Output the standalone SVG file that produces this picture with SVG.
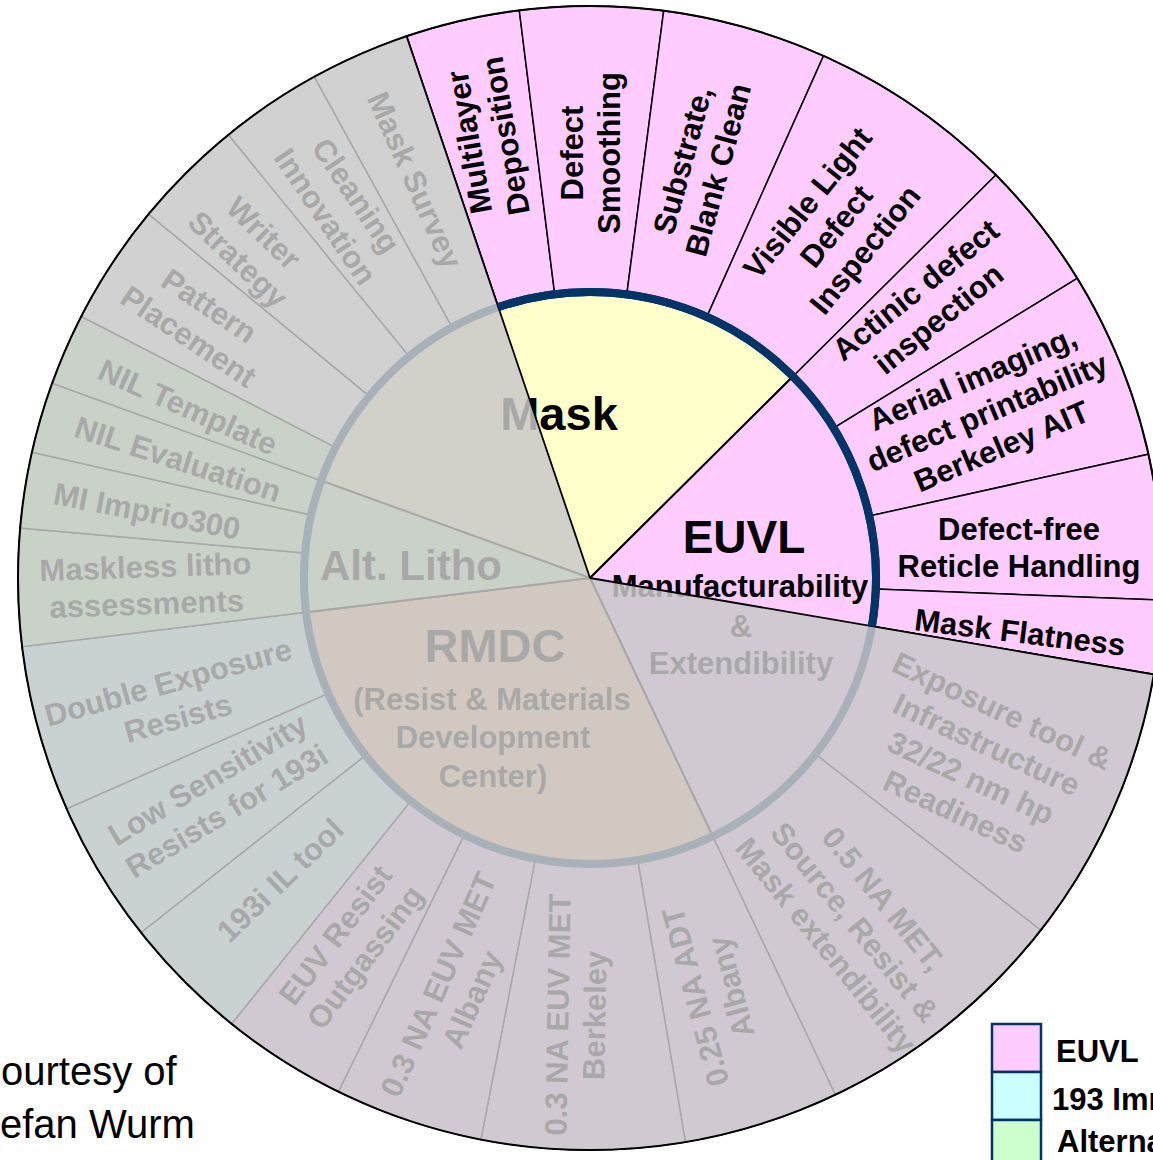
<svg xmlns="http://www.w3.org/2000/svg" width="1153" height="1160" viewBox="0 0 1153 1160">
<style>
 .seg{stroke:#000;stroke-width:1.5}
 .hubp{stroke:#000;stroke-width:2}
 .pk{fill:#FFCCFF} .cy{fill:#CCFFFF} .gr{fill:#CCFFCC} .wh{fill:#FFFFFF} .ye{fill:#FFFFCC} .tn{fill:#FFCC99}
 text{font-family:"Liberation Sans",Arial,Helvetica,sans-serif}
 .lb{font-weight:bold;font-size:31px;text-anchor:middle;fill:#000}
 .hl{font-weight:bold;text-anchor:middle;fill:#000}
 .cr{font-size:40px;fill:#000}
 .lg{font-weight:bold;font-size:31px;fill:#000}
 .lgbox{stroke:#003366;stroke-width:2.5}
</style>
<rect width="1153" height="1160" fill="#fff"/>

<g id="ring">
<g id="seg-multilayer"><path class="seg pk" d="M406.6,36.2 A572,572 0 0 1 519.3,10.4 L554.7,294.2 A286,286 0 0 0 498.3,307.1 Z"/><text class="lb" transform="translate(487,139) rotate(-100)"><tspan x="0" y="-7.5">Multilayer</tspan><tspan x="0" y="29.5">Deposition</tspan></text></g>
<g id="seg-smoothing"><path class="seg pk" d="M519.3,10.4 A572,572 0 0 1 663.7,10.7 L626.8,294.4 A286,286 0 0 0 554.7,294.2 Z"/><text class="lb" transform="translate(590,153) rotate(-90)"><tspan x="0" y="-7.5">Defect</tspan><tspan x="0" y="29.5">Smoothing</tspan></text></g>
<g id="seg-substrate"><path class="seg pk" d="M663.7,10.7 A572,572 0 0 1 823.5,55.9 L706.8,316.9 A286,286 0 0 0 626.8,294.4 Z"/><text class="lb" transform="translate(700,165) rotate(-75)"><tspan x="0" y="-7.5">Substrate,</tspan><tspan x="0" y="29.5">Blank Clean</tspan></text></g>
<g id="seg-visible"><path class="seg pk" d="M823.5,55.9 A572,572 0 0 1 995.9,175 L792.9,376.5 A286,286 0 0 0 706.8,316.9 Z"/><text class="lb" transform="translate(836,226) rotate(-51)"><tspan x="0" y="-26">Visible Light</tspan><tspan x="0" y="11">Defect</tspan><tspan x="0" y="48">Inspection</tspan></text></g>
<g id="seg-actinic"><path class="seg pk" d="M995.9,175 A572,572 0 0 1 1077.2,278.3 L833.6,428.1 A286,286 0 0 0 792.9,376.5 Z"/><text class="lb" transform="translate(927,304) rotate(-39)"><tspan x="0" y="-7.5">Actinic defect</tspan><tspan x="0" y="29.5">inspection</tspan></text></g>
<g id="seg-aerial"><path class="seg pk" d="M1077.2,278.3 A572,572 0 0 1 1148.4,454.2 L869.2,516.1 A286,286 0 0 0 833.6,428.1 Z"/><text class="lb" transform="translate(987,412) rotate(-23)"><tspan x="0" y="-26">Aerial imaging,</tspan><tspan x="0" y="11">defect printability</tspan><tspan x="0" y="48">Berkeley AIT</tspan></text></g>
<g id="seg-reticle"><path class="seg pk" d="M1148.4,454.2 A572,572 0 0 1 1161.6,600 L875.8,589 A286,286 0 0 0 869.2,516.1 Z"/><text class="lb" transform="translate(1019,547)"><tspan x="0" y="-7.5">Defect-free</tspan><tspan x="0" y="29.5">Reticle Handling</tspan></text></g>
<g id="seg-flatness"><path class="seg pk" d="M1161.6,600 A572,572 0 0 1 1153.8,674.4 L871.9,626.2 A286,286 0 0 0 875.8,589 Z"/><text class="lb" transform="translate(1020,632) rotate(7)"><tspan x="0" y="11">Mask Flatness</tspan></text></g>
<g id="seg-exposure"><path class="seg pk" d="M1153.8,674.4 A572,572 0 0 1 1040.7,930.2 L815.4,754.1 A286,286 0 0 0 871.9,626.2 Z"/><text class="lb" transform="translate(979,761) rotate(25)"><tspan x="0" y="-44.5">Exposure tool &amp;</tspan><tspan x="0" y="-7.5">Infrastructure</tspan><tspan x="0" y="29.5">32/22 nm hp</tspan><tspan x="0" y="66.5">Readiness</tspan></text></g>
<g id="seg-05met"><path class="seg pk" d="M1040.7,930.2 A572,572 0 0 1 835.3,1094.7 L712.7,836.3 A286,286 0 0 0 815.4,754.1 Z"/><text class="lb" transform="translate(855,922) rotate(51)"><tspan x="0" y="-26">0.5 NA MET,</tspan><tspan x="0" y="11">Source, Resist &amp;</tspan><tspan x="0" y="48">Mask extendibility</tspan></text></g>
<g id="seg-adt"><path class="seg pk" d="M835.3,1094.7 A572,572 0 0 1 685.4,1142 L637.7,860 A286,286 0 0 0 712.7,836.3 Z"/><text class="lb" transform="translate(713,992) rotate(-105)"><tspan x="0" y="-7.5">0.25 NA ADT</tspan><tspan x="0" y="29.5">Albany</tspan></text></g>
<g id="seg-met-berkeley"><path class="seg pk" d="M685.4,1142 A572,572 0 0 1 480.9,1139.5 L535.4,858.7 A286,286 0 0 0 637.7,860 Z"/><text class="lb" transform="translate(576,1015) rotate(-89)"><tspan x="0" y="-7.5">0.3 NA EUV MET</tspan><tspan x="0" y="29.5">Berkeley</tspan></text></g>
<g id="seg-met-albany"><path class="seg pk" d="M480.9,1139.5 A572,572 0 0 1 338.4,1091.7 L464.2,834.8 A286,286 0 0 0 535.4,858.7 Z"/><text class="lb" transform="translate(455,992) rotate(-66)"><tspan x="0" y="-7.5">0.3 NA EUV MET</tspan><tspan x="0" y="29.5">Albany</tspan></text></g>
<g id="seg-outgassing"><path class="seg pk" d="M338.4,1091.7 A572,572 0 0 1 231.6,1023.8 L410.8,800.9 A286,286 0 0 0 464.2,834.8 Z"/><text class="lb" transform="translate(350,946) rotate(-53)"><tspan x="0" y="-7.5">EUV Resist</tspan><tspan x="0" y="29.5">Outgassing</tspan></text></g>
<g id="seg-193il"><path class="seg cy" d="M231.6,1023.8 A572,572 0 0 1 141.1,932.5 L365.5,755.3 A286,286 0 0 0 410.8,800.9 Z"/><text class="lb" transform="translate(280,880) rotate(-44)"><tspan x="0" y="11">193i IL tool</tspan></text></g>
<g id="seg-lowsens"><path class="seg cy" d="M141.1,932.5 A572,572 0 0 1 66.6,808.8 L328.3,693.4 A286,286 0 0 0 365.5,755.3 Z"/><text class="lb" transform="translate(217,795) rotate(-31)"><tspan x="0" y="-7.5">Low Sensitivity</tspan><tspan x="0" y="29.5">Resists for 193i</tspan></text></g>
<g id="seg-double"><path class="seg cy" d="M66.6,808.8 A572,572 0 0 1 22.1,646.7 L306.1,612.3 A286,286 0 0 0 328.3,693.4 Z"/><text class="lb" transform="translate(173,700) rotate(-15.5)"><tspan x="0" y="-7.5">Double Exposure</tspan><tspan x="0" y="29.5">Resists</tspan></text></g>
<g id="seg-maskless"><path class="seg gr" d="M22.1,646.7 A572,572 0 0 1 20.2,528.1 L305.1,553.1 A286,286 0 0 0 306.1,612.3 Z"/><text class="lb" transform="translate(146,585) rotate(-2)"><tspan x="0" y="-7.5">Maskless litho</tspan><tspan x="0" y="29.5">assessments</tspan></text></g>
<g id="seg-imprio"><path class="seg gr" d="M20.2,528.1 A572,572 0 0 1 32,452.3 L311,515.1 A286,286 0 0 0 305.1,553.1 Z"/><text class="lb" transform="translate(147,511) rotate(11)"><tspan x="0" y="11">MI Imprio300</tspan></text></g>
<g id="seg-nileval"><path class="seg gr" d="M32,452.3 A572,572 0 0 1 52.1,383.3 L321.1,480.6 A286,286 0 0 0 311,515.1 Z"/><text class="lb" transform="translate(178,459) rotate(18)"><tspan x="0" y="11">NIL Evaluation</tspan></text></g>
<g id="seg-niltemplate"><path class="seg gr" d="M52.1,383.3 A572,572 0 0 1 81.3,316.5 L335.6,447.3 A286,286 0 0 0 321.1,480.6 Z"/><text class="lb" transform="translate(188,407) rotate(24)"><tspan x="0" y="11">NIL Template</tspan></text></g>
<g id="seg-pattern"><path class="seg wh" d="M81.3,316.5 A572,572 0 0 1 148.6,214.1 L369.3,396.1 A286,286 0 0 0 335.6,447.3 Z"/><text class="lb" transform="translate(199,321) rotate(34)"><tspan x="0" y="-7.5">Pattern</tspan><tspan x="0" y="29.5">Placement</tspan></text></g>
<g id="seg-writer"><path class="seg wh" d="M148.6,214.1 A572,572 0 0 1 228.5,134.8 L409.2,356.4 A286,286 0 0 0 369.3,396.1 Z"/><text class="lb" transform="translate(251,246) rotate(44)"><tspan x="0" y="-7.5">Writer</tspan><tspan x="0" y="29.5">Strategy</tspan></text></g>
<g id="seg-cleaning"><path class="seg wh" d="M228.5,134.8 A572,572 0 0 1 314.4,76.8 L452.2,327.4 A286,286 0 0 0 409.2,356.4 Z"/><text class="lb" transform="translate(341,206) rotate(56)"><tspan x="0" y="-7.5">Cleaning</tspan><tspan x="0" y="29.5">Innovation</tspan></text></g>
<g id="seg-masksurvey"><path class="seg wh" d="M314.4,76.8 A572,572 0 0 1 406.6,36.2 L498.3,307.1 A286,286 0 0 0 452.2,327.4 Z"/><text class="lb" transform="translate(415,180) rotate(66)"><tspan x="0" y="11">Mask Survey</tspan></text></g>
</g>

<g id="hub">
<g id="hub-mask"><path class="hubp ye" d="M590,578 L321.1,480.6 A286,286 0 0 1 792.9,376.5 Z"/><text class="hl" x="559" y="430" font-size="47">Mask</text></g>
<g id="hub-euvl"><path class="hubp pk" d="M590,578 L792.9,376.5 A286,286 0 0 1 712.7,836.3 Z"/><text class="hl" x="744" y="553" font-size="46">EUVL</text><text class="hl" font-size="31"><tspan x="740" y="597">Manufacturability</tspan><tspan x="741" y="637">&amp;</tspan><tspan x="741" y="674">Extendibility</tspan></text></g>
<g id="hub-rmdc"><path class="hubp tn" d="M590,578 L712.7,836.3 A286,286 0 0 1 306.1,612.3 Z"/><text class="hl" x="495" y="662" font-size="47">RMDC</text><text class="hl" font-size="31"><tspan x="492" y="710">(Resist &amp; Materials</tspan><tspan x="493" y="748">Development</tspan><tspan x="493" y="787">Center)</tspan></text></g>
<g id="hub-altlitho"><path class="hubp gr" d="M590,578 L306.1,612.3 A286,286 0 0 1 321.1,480.6 Z"/><text class="hl" x="411" y="580" font-size="42">Alt. Litho</text></g>
<circle cx="590" cy="578" r="286" fill="none" stroke="#003366" stroke-width="8"/>
</g>

<g id="overlay">
<path d="M590,578 L1153.8,674.4 A572,572 0 1 1 406.6,36.2 Z" fill="#C8C8C8" fill-opacity="0.84"/>
<path d="M590,578 L406.6,36.2 M590,578 L1153.8,674.4" stroke="#000" stroke-width="1.8" fill="none"/>
<path d="M498.3,307.1 A286,286 0 0 1 871.9,626.2" fill="none" stroke="#003366" stroke-width="8"/>
<circle cx="590" cy="578" r="572" fill="none" stroke="#000" stroke-width="2"/>
</g>

<g id="legend">
<rect class="lgbox pk" x="992" y="1024" width="49" height="48"/>
<rect class="lgbox cy" x="992" y="1072" width="49" height="48"/>
<rect class="lgbox gr" x="992" y="1120" width="49" height="45"/>
<text class="lg" x="1056" y="1062">EUVL</text>
<text class="lg" x="1052" y="1110">193 Imm</text>
<text class="lg" x="1057" y="1152">Alterna</text>
</g>

<g id="credit">
<text class="cr" x="1" y="1085" font-size="41">ourtesy of</text>
<text class="cr" x="0" y="1138">efan Wurm</text>
</g>
</svg>
